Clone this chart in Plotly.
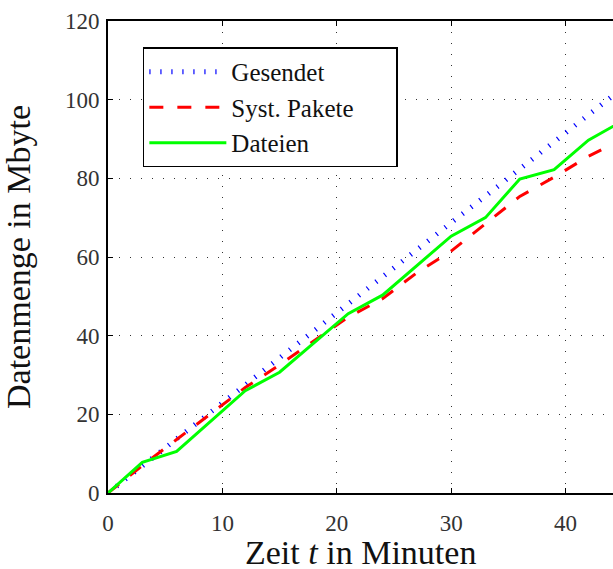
import plotly.graph_objects as go

# Zeitpunkte in Minuten
minuten = [0, 3, 6, 9, 12, 15, 18, 21, 24, 27, 30, 33, 36, 39, 42, 45]

# Datenmengen in Mbyte
gesendet = [0, 6.9, 13.8, 20.6, 27.5, 34.3, 41.2, 48.1, 54.9, 61.8, 68.7, 75.5, 82.4, 89.3, 96.1, 103.0]
syst_pakete = [0, 7.0, 13.6, 20.3, 26.8, 32.6, 38.6, 44.7, 49.4, 56.0, 61.5, 68.5, 75.4, 80.3, 85.6, 90.0]
dateien = [0, 7.8, 10.6, 18.3, 26.0, 30.7, 38.2, 45.6, 50.3, 57.7, 65.3, 70.0, 79.8, 82.2, 89.7, 94.6]

x_ticks = [0, 10, 20, 30, 40]
y_ticks = [0, 20, 40, 60, 80, 100, 120]

serif = "Liberation Serif, Times New Roman, serif"
# extra room on the right of the legend text
pad = "\u00a0" * 6

fig = go.Figure()
fig.add_trace(go.Scatter(
    x=minuten, y=gesendet, mode="lines", name="Gesendet",
    line=dict(color="#0000ff", width=5, dash="1.2px,9.8px"),
))
fig.add_trace(go.Scatter(
    x=minuten, y=syst_pakete, mode="lines", name="Syst. Pakete" + pad,
    line=dict(color="#ff0000", width=3, dash="14px,14px"),
))
fig.add_trace(go.Scatter(
    x=minuten, y=dateien, mode="lines", name="Dateien",
    line=dict(color="#00ff00", width=3),
))

fig.update_layout(
    width=613, height=569,
    margin=dict(l=108, r=0, t=21, b=76, pad=0),
    paper_bgcolor="white", plot_bgcolor="white",
    font=dict(family=serif, color="#111111", size=23),
    showlegend=True,
    legend=dict(
        x=0.069, y=0.944, xanchor="left", yanchor="top",
        bgcolor="white", bordercolor="black", borderwidth=1.5,
        font=dict(family=serif, size=25, color="#111111"),
        itemwidth=77, tracegroupgap=0,
    ),
    xaxis=dict(
        range=[0, 44.15], tickvals=x_ticks,
        showline=True, linecolor="black", linewidth=2, mirror="ticks",
        ticks="inside", ticklen=5, tickcolor="black", tickwidth=1,
        showgrid=True, gridcolor="#333333", gridwidth=1, griddash="1px,10px",
        zeroline=False, ticklabelstandoff=8,
        tickfont=dict(family=serif, size=23, color="#333333"),
    ),
    yaxis=dict(
        range=[0, 120], tickvals=y_ticks,
        showline=True, linecolor="black", linewidth=2, mirror=False,
        ticks="inside", ticklen=5, tickcolor="black", tickwidth=1,
        showgrid=True, gridcolor="#333333", gridwidth=1, griddash="1px,10px",
        zeroline=False, ticklabelstandoff=2,
        tickfont=dict(family=serif, size=23, color="#333333"),
        title=dict(text="Datenmenge in Mbyte", font=dict(family=serif, size=34, color="#111111"), standoff=24),
    ),
    annotations=[dict(
        text="Zeit <i>t</i> in Minuten", xref="paper", yref="paper",
        x=0.5, y=-0.125, xanchor="center", yanchor="middle", showarrow=False,
        font=dict(family=serif, size=34, color="#111111"),
    )],
)

fig.write_html("out.html")
